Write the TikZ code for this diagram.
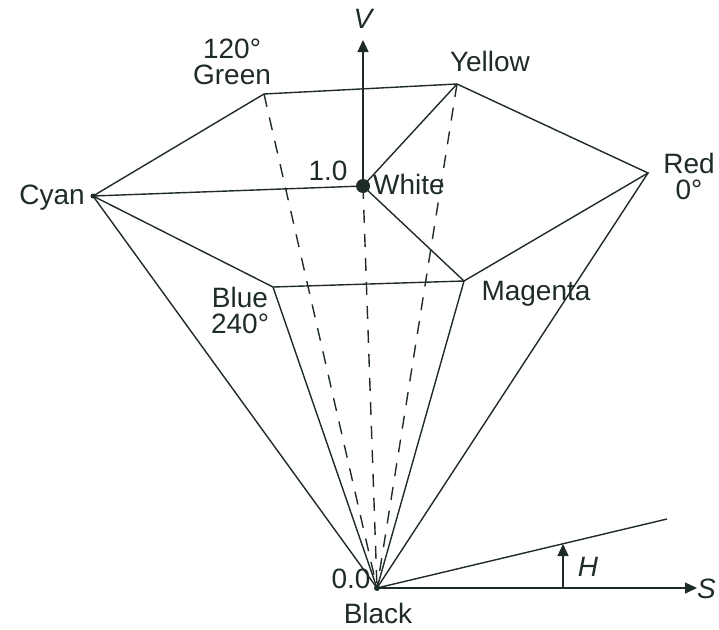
\documentclass[tikz,border=0pt]{standalone}
\usepackage{fontspec}
\setmainfont{Liberation Sans}
\usetikzlibrary{arrows.meta,positioning}
\definecolor{ink}{HTML}{1F2B27}

\begin{document}
\begin{tikzpicture}[
    x=1pt,y=-1pt,
    every node/.style={font=\fontsize{28}{26}\selectfont,text=ink},
    edge/.style={line width=1.4pt,ink},
    hidden/.style={edge,dash pattern=on 13pt off 11pt},
    axisline/.style={edge,-{Triangle[length=12pt,width=11pt]}},
    tag/.style={align=center,inner sep=0pt}
]
\useasboundingbox (0,0) rectangle (719,629);

% Corners of the hexcone
\coordinate (cyan)    at (93,196);
\coordinate (green)   at (264,94);
\coordinate (yellow)  at (457,84);
\coordinate (red)     at (648,173);
\coordinate (magenta) at (464,281);
\coordinate (blue)    at (273,287);
\coordinate (white)   at (363,186);
\coordinate (black)   at (377,588);

% Axis ends
\coordinate (vtop) at (363,40);
\coordinate (send) at (697,588);
\coordinate (hend) at (667,519);
\coordinate (hbase) at (563,588);
\coordinate (htip)  at (563,544);

% Top hexagon
\draw[edge] (cyan) -- (green) -- (yellow) -- (red) -- (magenta) -- (blue) -- cycle;
\draw[edge] (cyan) -- (white);
\draw[edge] (white) -- (yellow);
\draw[edge] (white) -- (magenta);

% Sides down to black
\draw[edge] (cyan) -- (black);
\draw[edge] (blue) -- (black);
\draw[edge] (magenta) -- (black);
\draw[edge] (red) -- (black);
\draw[hidden] (green) -- (black);
\draw[hidden] (yellow) -- (black);
\draw[hidden] (white) -- (black);

% Axes
\draw[axisline] (white) -- (vtop);
\draw[axisline] (black) -- (send);
\draw[edge] (black) -- (hend);
\draw[axisline] (hbase) -- (htip);

% Points
\fill[ink] (white) circle (7pt);
\fill[ink] (cyan) circle (2.5pt);
\fill[ink] (black) circle (3pt);

% Labels
\node[tag] (vlab) at (363,19) {\itshape V};
\node[tag] (greenlab) at (232,62) {120°\\Green};
\node[tag] (yellowlab) at (490,61) {Yellow};
\node[tag] (onelab) at (328,171) {1.0};
\node[tag] (whitelab) at (409,184) {White};
\node[tag] (cyanlab) at (52,198) {Cyan};
\node[tag] (redlab) at (689,176) {Red\\0°};
\node[tag] (bluelab) at (240,310) {Blue\\240°};
\node[tag] (magentalab) at (536,294) {Magenta};
\node[tag] (zerolab) at (351,579) {0.0};
\node[tag] (blacklab) at (378,613) {Black};
\node[tag] (hlab) at (588,567) {\itshape H};
\node[tag,anchor=west] (slab) at (697,589) {\itshape S};
\end{tikzpicture}
\end{document}
